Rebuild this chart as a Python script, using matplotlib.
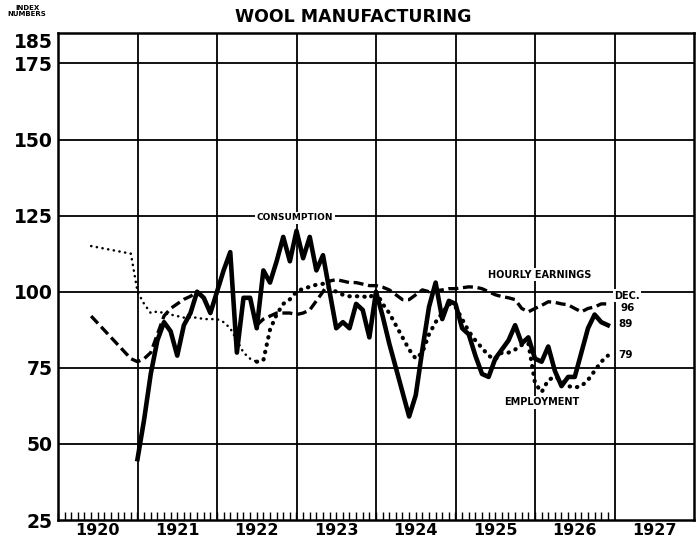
import numpy as np
import pandas as pd
import matplotlib
matplotlib.use("Agg")
import matplotlib.pyplot as plt

# monthly index numbers
cons_start = '1921-01'
consumption = [
    45, 58, 73, 84, 90, 87, 79, 89, 93, 100, 98, 93,            # 1921
    100, 107, 113, 80, 98, 98, 88, 107, 103, 110, 118, 110,     # 1922
    120, 111, 118, 107, 112, 100, 88, 90, 88, 96, 94, 85,       # 1923
    100, 92, 83, 75, 67, 59, 66, 81, 95, 103, 91, 97,           # 1924
    96, 88, 86, 79, 73, 72, 78, 81, 84, 89, 83, 85,             # 1925
    78, 77, 82, 74, 69, 72, 72, 80, 88, 92.5, 90, 89,           # 1926
]

emp_early_months = ['1920-06', '1920-12']
emp_early = [115, 112.5]
emp_start = '1921-01'
employment = [
    100, 96, 93, 93.5, 93, 92.5, 92, 91.5, 91.5, 91.5, 91, 91,  # 1921
    91, 90, 88, 84, 80, 78, 77, 77.5, 87.5, 92.5, 96, 97.5,     # 1922
    100, 101, 101.6, 102.3, 102.6, 101, 100, 99, 98.5, 98.5, 98.5, 98,  # 1923
    100, 96, 93, 89, 85, 81, 78, 80, 86, 90, 93, 96,            # 1924
    95, 91, 87, 84, 81.5, 79, 77.7, 80, 80, 81, 82.5, 83,       # 1925
    70, 67, 71, 72, 71, 69, 68.5, 69, 71, 74, 77, 79,           # 1926
]
emp_heavy_from = '1922-07'

earn_early_months = ['1920-06', '1920-12']
earn_early = [92, 78]
earn_start = '1921-01'
earnings = [
    77, 78, 80, 86, 92, 94.5, 96, 97.5, 98.5, 100, np.nan, np.nan,      # 1921
    np.nan, np.nan, np.nan, np.nan, np.nan, np.nan, 89, 91, 92, 93, 93, 93,  # 1922
    92.5, 93, 94, 97, 100, 103.5, 104, 103.5, 103, 103, 102.5, 102,     # 1923
    102, 101.5, 100.6, 99, 97.4, 97.4, 99, 100.6, 100, 100.3, 100.6, 101,  # 1924
    101, 101.3, 101.6, 101.5, 101, 100, 99, 98.4, 98, 97.4, 94.5, 93.4,  # 1925
    94.5, 95.5, 96.7, 96.5, 96, 95.7, 94.5, 93.4, 94.5, 95, 96, 96,     # 1926
]

years = [1920, 1921, 1922, 1923, 1924, 1925, 1926, 1927]


def to_year(dates):
    d = pd.DatetimeIndex(dates)
    return np.asarray(d.year + (d.month - 1) / 12.0)


def monthly(start, n):
    return pd.date_range(start, periods=n, freq='MS')


cons_x = to_year(monthly(cons_start, len(consumption)))

emp_months = pd.DatetimeIndex(list(pd.DatetimeIndex(emp_early_months))
                              + list(monthly(emp_start, len(employment))))
emp_vals = np.array(emp_early + employment, dtype=float)
emp_x = to_year(emp_months)
cut = pd.Timestamp(emp_heavy_from)
thin = emp_months <= cut
heavy = emp_months >= cut

earn_months = pd.DatetimeIndex(list(pd.DatetimeIndex(earn_early_months))
                               + list(monthly(earn_start, len(earnings))))
earn_vals = np.array(earn_early + earnings, dtype=float)
earn_x = to_year(earn_months)

plt.rcParams['font.family'] = ['DejaVu Sans']
fig = plt.figure(figsize=(7, 5.44), dpi=100)
ax = fig.add_axes([58 / 700, 1 - 520 / 544, 636 / 700, 487 / 544])
ax.set_xlim(1920, 1928)
ax.set_ylim(25, 185)

for yr in range(1921, 1928):
    ax.axvline(yr, color='black', lw=1.3, zorder=1)
for v in [50, 75, 100, 125, 150, 175]:
    ax.axhline(v, color='black', lw=1.3, zorder=1)
for s in ax.spines.values():
    s.set_linewidth(1.8)

ax.plot(cons_x, consumption, color='black', lw=3.3, zorder=4,
        solid_joinstyle='round')
ax.plot(earn_x, earn_vals, color='black', lw=2.4, zorder=3,
        linestyle=(0, (3, 1.4)), dash_capstyle='butt')
ax.plot(emp_x[thin], emp_vals[thin], color='black', lw=1.8, zorder=3,
        linestyle=(0, (0.1, 2.2)), dash_capstyle='round')
ax.plot(emp_x[heavy], emp_vals[heavy], color='black', lw=3.0, zorder=3,
        linestyle=(0, (0.1, 1.7)), dash_capstyle='round')

# axes ticks
ax.set_yticks([25, 50, 75, 100, 125, 150, 175, 185])
ax.set_yticklabels(['25', '50', '75', '100', '125', '150', '175', '185'],
                   fontsize=13.5, fontweight='bold')
ax.get_yticklabels()[-1].set_va('top')
ax.tick_params(axis='y', length=0, pad=4)

ax.xaxis.remove_overlapping_locs = False
ax.set_xticks([y + 0.5 for y in years])
ax.set_xticklabels([str(y) for y in years], fontsize=11.5, fontweight='bold')
ax.set_xticks(np.arange(1920, 1927, 1 / 12), minor=True)
ax.tick_params(axis='x', which='major', length=0, pad=2)
ax.tick_params(axis='x', which='minor', direction='in', length=6, width=1)

box = dict(facecolor='white', edgecolor='none', pad=1)
ax.text(1922.98, 124.3, 'CONSUMPTION', fontsize=6.5, fontweight='bold',
        ha='center', va='center', bbox=box, zorder=5)
ax.text(1926.06, 105.6, 'HOURLY EARNINGS', fontsize=7, fontweight='bold',
        ha='center', va='center', bbox=box, zorder=5)
ax.text(1926.09, 63.7, 'EMPLOYMENT', fontsize=7, fontweight='bold',
        ha='center', va='center', bbox=box, zorder=5)
ax.text(1927.0, 98.7, 'DEC.', fontsize=7, fontweight='bold',
        ha='left', va='center', bbox=box, zorder=5)
ax.text(1927.16, 94.6, '%d' % round(earn_vals[-1]), fontsize=7.5,
        fontweight='bold', ha='center', va='center', bbox=box, zorder=5)
ax.text(1927.14, 89.3, '%d' % round(consumption[-1]), fontsize=7.5,
        fontweight='bold', ha='center', va='center', bbox=box, zorder=5)
ax.text(1927.14, 79.3, '%d' % round(employment[-1]), fontsize=7.5,
        fontweight='bold', ha='center', va='center', bbox=box, zorder=5)

fig.text(353 / 700, 1 - 17 / 544, 'WOOL MANUFACTURING', fontsize=12.5,
         fontweight='bold', ha='center', va='center')
fig.text(27 / 700, 1 - 11 / 544, 'INDEX\nNUMBERS', fontsize=5,
         fontweight='bold', ha='center', va='center', linespacing=1.1)

fig.savefig('out.png', dpi=100)
